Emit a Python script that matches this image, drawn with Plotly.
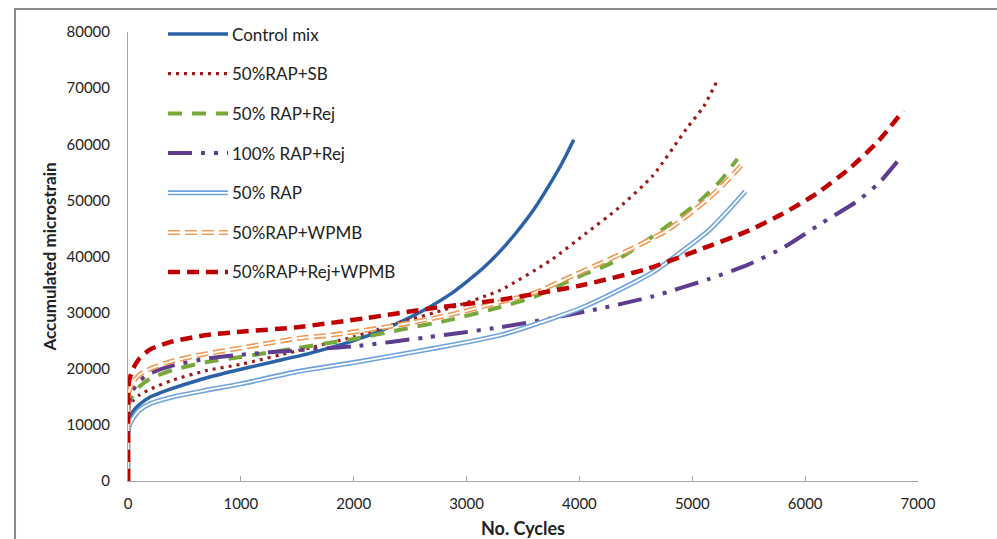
import plotly.graph_objects as go

# Accumulated permanent microstrain versus load cycles for each mix
control_x = [0, 2, 10, 40, 100, 200, 350, 500, 700, 1000, 1300, 1600, 2000, 2300, 2600, 2850, 3000, 3150, 3300, 3450, 3600, 3750, 3850, 3950]
control_y = [0, 9500, 11000, 12300, 13600, 15000, 16200, 17200, 18400, 19900, 21300, 22700, 25000, 27300, 30200, 33200, 35500, 38000, 41000, 44500, 48500, 53300, 56800, 60800]

sb_x = [0, 2, 10, 40, 100, 200, 400, 700, 1000, 1500, 2000, 2400, 2850, 3300, 3750, 4050, 4350, 4650, 4950, 5100, 5220]
sb_y = [0, 12000, 13000, 14200, 15300, 16400, 18000, 19700, 20800, 23200, 25700, 28200, 30800, 34000, 39400, 44000, 48700, 54400, 62800, 66700, 71300]

rej_x = [0, 2, 10, 40, 100, 200, 400, 700, 1000, 1500, 2000, 2400, 2850, 3300, 3600, 3980, 4300, 4700, 5050, 5250, 5400]
rej_y = [0, 12500, 13800, 15200, 16800, 18300, 19800, 21200, 22100, 23700, 25300, 26900, 28700, 31000, 32800, 36300, 39000, 44300, 49600, 53500, 57400]

rap100_x = [0, 2, 10, 40, 100, 200, 400, 700, 1000, 1500, 2000, 2650, 3300, 3750, 4200, 4650, 5150, 5500, 5800, 6150, 6450, 6650, 6820]
rap100_y = [0, 12800, 14200, 16000, 17800, 19200, 20600, 21800, 22500, 23300, 24000, 25600, 27400, 29000, 30800, 32900, 36000, 38600, 41500, 46000, 49700, 53000, 57000]

rap50_x = [0, 2, 10, 40, 100, 200, 400, 700, 1000, 1500, 2000, 2700, 3300, 3750, 4000, 4300, 4650, 5000, 5150, 5300, 5470]
rap50_y = [0, 8500, 9800, 11000, 12600, 13800, 15000, 16200, 17300, 19500, 21100, 23600, 26000, 28900, 30700, 33500, 37200, 42300, 44700, 47800, 51600]

wpmb_x = [0, 2, 10, 40, 100, 200, 400, 700, 1000, 1500, 1800, 2400, 2850, 3300, 3600, 3900, 4350, 4780, 5130, 5300, 5460]
wpmb_y = [0, 14500, 16000, 17500, 18900, 20000, 21400, 22700, 23700, 25400, 26000, 27800, 29600, 31900, 33500, 36200, 40300, 44700, 50100, 53300, 56800]

rejwpmb_x = [0, 2, 10, 40, 100, 200, 400, 700, 1000, 1500, 2100, 2700, 3300, 4000, 4600, 5050, 5500, 5800, 6100, 6400, 6650, 6870]
rejwpmb_y = [0, 16000, 17800, 19800, 21800, 23500, 24900, 26000, 26600, 27400, 29000, 30800, 32300, 34800, 37800, 41100, 44600, 47600, 51200, 55800, 60600, 66000]

series_names = ["Control mix", "50%RAP+SB", "50% RAP+Rej", "100% RAP+Rej",
                "50% RAP", "50%RAP+WPMB", "50%RAP+Rej+WPMB"]

x_ticks = [0, 1000, 2000, 3000, 4000, 5000, 6000, 7000]
y_ticks = [0, 10000, 20000, 30000, 40000, 50000, 60000, 70000, 80000]

FONT = "Lato"

# Line styles: each entry is a list of strokes drawn on top of one another
styles = [
    [dict(color="#2B62A6", width=3.5, dash="solid")],
    [dict(color="#9E1B1B", width=3.2, dash="3px,5px")],
    [dict(color="#77A83A", width=4, dash="14px,10px")],
    [dict(color="#5E3C8F", width=4, dash="24px,9px,4px,9px,4px,9px")],
    [dict(color="#6FA3DC", width=5, dash="solid"), dict(color="white", width=1.8, dash="solid")],
    [dict(color="#EE9A55", width=5, dash="12px,5px"), dict(color="white", width=1.8, dash="12px,5px")],
    [dict(color="#C00000", width=4.5, dash="12px,7px")],
]

data = [(control_x, control_y), (sb_x, sb_y), (rej_x, rej_y), (rap100_x, rap100_y),
        (rap50_x, rap50_y), (wpmb_x, wpmb_y), (rejwpmb_x, rejwpmb_y)]

fig = go.Figure()
for (xs, ys), name, strokes in zip(data, series_names, styles):
    for st in strokes:
        fig.add_trace(go.Scatter(x=xs, y=ys, mode="lines", name=name, showlegend=False,
                                 line=dict(color=st["color"], width=st["width"], dash=st["dash"],
                                           shape="spline", smoothing=0.6),
                                 hoverinfo="skip"))

# Hand-built key in the upper-left corner of the plot area
shapes = []
annotations = []
key_y = [0.9955, 0.9071, 0.8187, 0.7305, 0.6419, 0.5534, 0.4655]
for name, strokes, ky in zip(series_names, styles, key_y):
    for st in strokes:
        shapes.append(dict(type="line", xref="paper", yref="paper",
                           x0=0.0506, x1=0.1266, y0=ky, y1=ky,
                           line=dict(color=st["color"], width=st["width"], dash=st["dash"])))
    annotations.append(dict(text=name, xref="paper", yref="paper", x=0.1285, y=ky,
                            xanchor="left", yanchor="middle", showarrow=False,
                            font=dict(family=FONT, size=17, color="#222222")))

# Outer chart frame
shapes.append(dict(type="rect", xref="paper", yref="paper", x0=-0.143, x1=1.3, y0=-0.3, y1=1.0512,
                   line=dict(color="#8a8a8a", width=2), layer="below"))

fig.update_layout(
    width=997, height=539,
    margin=dict(l=128, r=79, t=32, b=58),
    paper_bgcolor="white", plot_bgcolor="white",
    showlegend=False,
    shapes=shapes, annotations=annotations,
    font=dict(family=FONT, color="#222222"),
    xaxis=dict(range=[0, 7000], tickvals=x_ticks, ticktext=[str(v) for v in x_ticks],
               automargin=False,
               showgrid=False, zeroline=False, showline=True, linecolor="#a6a6a6", linewidth=1,
               ticks="inside", ticklen=5, tickcolor="#a6a6a6", ticklabelstandoff=9,
               tickfont=dict(family=FONT, size=15, color="#222222"),
               title=dict(text="<b>No. Cycles</b>", font=dict(family=FONT, size=18, color="#222222"),
                          standoff=14)),
    yaxis=dict(range=[0, 80000], tickvals=y_ticks, ticktext=[str(v) for v in y_ticks],
               automargin=False,
               showgrid=False, zeroline=False, showline=True, linecolor="#a6a6a6", linewidth=1,
               ticks="", ticklabelstandoff=14,
               tickfont=dict(family=FONT, size=15, color="#222222"),
               title=dict(text="<b>Accumulated microstrain</b>", font=dict(family=FONT, size=17, color="#222222"),
                          standoff=5)),
)

fig.write_html("out.html")
